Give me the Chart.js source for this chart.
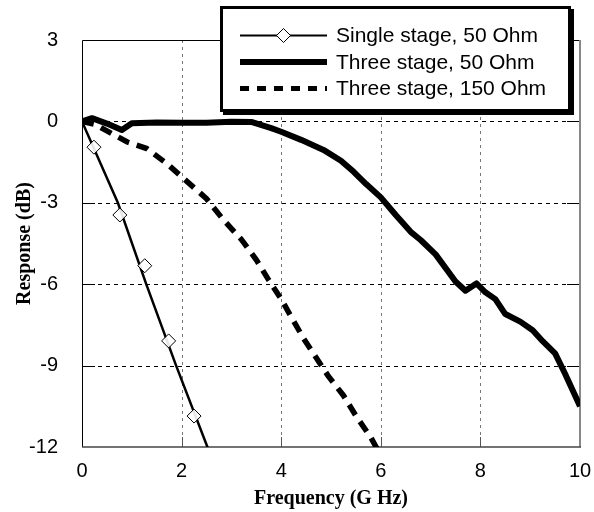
<!DOCTYPE html>
<html>
<head>
<meta charset="utf-8">
<script src="https://cdn.jsdelivr.net/npm/chart.js@4"></script>
<style>
  body { margin: 0; background: #fff; }
  #wrap { width: 594px; height: 512px; }
</style>
</head>
<body>
<div id="wrap"><canvas id="resp"></canvas></div>
<script>
// values
const freqSingle = [0, 0.72, 1.29, 1.89, 2.55];
const respSingle = [0, -3.0, -6.0, -9.0, -12.15];
const freqMarkers = [0.24, 0.76, 1.26, 1.74, 2.25];
const respMarkers = [-0.95, -3.45, -5.32, -8.09, -10.86];

const freq3s50 = [0, 0.2, 0.5, 0.8, 1.0, 1.5, 2.0, 2.5, 3.0, 3.4, 3.8, 4.0, 4.4, 4.85, 5.2, 5.45, 5.7, 6.0, 6.3, 6.6, 6.8, 7.1, 7.5, 7.7, 7.92, 8.1, 8.3, 8.5, 8.8, 9.05, 9.25, 9.5, 9.7, 10];
const resp3s50 = [0, 0.12, -0.08, -0.32, -0.07, -0.04, -0.05, -0.05, -0.01, -0.02, -0.25, -0.38, -0.68, -1.05, -1.45, -1.85, -2.3, -2.8, -3.45, -4.07, -4.37, -4.9, -5.9, -6.24, -5.97, -6.3, -6.55, -7.1, -7.38, -7.7, -8.1, -8.55, -9.3, -10.5];

const freq3s150 = [0, 0.25, 0.5, 0.9, 1.3, 1.7, 2.1, 2.5, 2.85, 3.2, 3.5, 3.75, 4.0, 4.2, 4.45, 4.7, 4.95, 5.25, 5.5, 5.8, 5.95];
const resp3s150 = [0, -0.1, -0.35, -0.75, -1.0, -1.55, -2.2, -2.85, -3.65, -4.35, -5.1, -5.85, -6.55, -7.2, -8.0, -8.7, -9.4, -10.1, -10.85, -11.65, -12.15];

const xTicks = [0, 2, 4, 6, 8, 10];
const yTicks = [3, 0, -3, -6, -9, -12];
const seriesNames = ["Single stage, 50 Ohm", "Three stage, 50 Ohm", "Three stage, 150 Ohm"];

const pts = (xs, ys) => xs.map((x, i) => ({ x: x, y: ys[i] }));

// grid lines, inside ticks and frame
const framePlugin = {
  id: 'frame',
  beforeDatasetsDraw(chart) {
    const ctx = chart.ctx, a = chart.chartArea;
    const xs = chart.scales.x, ys = chart.scales.y;
    ctx.save();
    ctx.lineWidth = 1;
    // vertical dotted grid
    ctx.strokeStyle = '#777';
    ctx.setLineDash([3, 4]);
    xTicks.slice(1, -1).forEach(v => {
      const px = Math.round(xs.getPixelForValue(v)) + 0.5;
      ctx.beginPath(); ctx.moveTo(px, a.top); ctx.lineTo(px, a.bottom); ctx.stroke();
    });
    // horizontal dashed grid
    ctx.strokeStyle = '#000';
    ctx.setLineDash([4, 4]);
    yTicks.slice(1, -1).forEach(v => {
      const py = Math.round(ys.getPixelForValue(v)) + 0.5;
      ctx.beginPath(); ctx.moveTo(a.left, py); ctx.lineTo(a.right, py); ctx.stroke();
    });
    ctx.setLineDash([]);
    // inside ticks
    yTicks.slice(1, -1).forEach(v => {
      const py = Math.round(ys.getPixelForValue(v)) + 0.5;
      ctx.strokeStyle = '#000';
      ctx.beginPath(); ctx.moveTo(a.left, py); ctx.lineTo(a.left + 13, py); ctx.stroke();
      ctx.beginPath(); ctx.moveTo(a.right - 13, py); ctx.lineTo(a.right, py); ctx.stroke();
    });
    ctx.strokeStyle = '#555';
    xTicks.slice(1, -1).forEach(v => {
      const px = Math.round(xs.getPixelForValue(v)) + 0.5;
      ctx.beginPath(); ctx.moveTo(px, a.bottom - 10); ctx.lineTo(px, a.bottom); ctx.stroke();
    });
    // frame
    ctx.strokeStyle = '#000';
    ctx.beginPath(); ctx.moveTo(a.left + 0.5, a.bottom); ctx.lineTo(a.left + 0.5, a.top + 0.5); ctx.lineTo(a.right, a.top + 0.5); ctx.stroke();
    ctx.strokeStyle = '#888';
    ctx.lineWidth = 2;
    ctx.beginPath(); ctx.moveTo(a.right, a.top); ctx.lineTo(a.right, a.bottom); ctx.stroke();
    ctx.strokeStyle = '#444';
    ctx.lineWidth = 1.5;
    ctx.beginPath(); ctx.moveTo(a.left, a.bottom); ctx.lineTo(a.right + 1, a.bottom); ctx.stroke();
    ctx.restore();
  }
};

// boxed legend in the top right corner
const legendPlugin = {
  id: 'boxLegend',
  afterDraw(chart) {
    const ctx = chart.ctx;
    const bx = 220, by = 6, bw = 351, bh = 106;
    ctx.save();
    ctx.fillStyle = '#000';
    ctx.fillRect(bx + 3, by + 3, bw, bh);
    ctx.fillStyle = '#fff';
    ctx.fillRect(bx, by, bw, bh);
    ctx.strokeStyle = '#000';
    ctx.lineWidth = 3;
    ctx.strokeRect(bx + 1.5, by + 1.5, bw - 3, bh - 3);

    const rows = [35.5, 62, 88.5];
    const x0 = 240, x1 = 327;
    ctx.lineCap = 'butt';
    // single stage
    ctx.lineWidth = 2;
    ctx.beginPath(); ctx.moveTo(x0, rows[0]); ctx.lineTo(x1, rows[0]); ctx.stroke();
    ctx.fillStyle = '#fff';
    ctx.lineWidth = 1;
    const cx = (x0 + x1) / 2, r = 7;
    ctx.beginPath();
    ctx.moveTo(cx, rows[0] - r); ctx.lineTo(cx + r, rows[0]); ctx.lineTo(cx, rows[0] + r); ctx.lineTo(cx - r, rows[0]);
    ctx.closePath(); ctx.fill(); ctx.stroke();
    // three stage 50
    ctx.lineWidth = 6;
    ctx.beginPath(); ctx.moveTo(x0, rows[1]); ctx.lineTo(x1, rows[1]); ctx.stroke();
    // three stage 150
    ctx.lineWidth = 5;
    ctx.setLineDash([9, 8]);
    ctx.beginPath(); ctx.moveTo(x0, rows[2]); ctx.lineTo(x1, rows[2]); ctx.stroke();
    ctx.setLineDash([]);

    ctx.fillStyle = '#000';
    ctx.font = '21px "Liberation Sans", Arial, sans-serif';
    ctx.textBaseline = 'middle';
    seriesNames.forEach((t, i) => ctx.fillText(t, 336, rows[i] + 1));
    ctx.restore();
  }
};

new Chart(document.getElementById('resp'), {
  type: 'scatter',
  data: {
    datasets: [
      {
        label: seriesNames[0],
        data: pts(freqSingle, respSingle),
        showLine: true,
        borderColor: '#000',
        borderWidth: 2.5,
        pointRadius: 0,
        clip: 0,
        order: 3
      },
      {
        label: seriesNames[0] + ' markers',
        data: pts(freqMarkers, respMarkers),
        showLine: false,
        pointStyle: 'rectRot',
        pointRadius: 7,
        pointBackgroundColor: 'rgba(255,255,255,0.9)',
        pointBorderColor: '#000',
        pointBorderWidth: 1,
        order: 2
      },
      {
        label: seriesNames[1],
        data: pts(freq3s50, resp3s50),
        showLine: true,
        borderColor: '#000',
        borderWidth: 6,
        borderJoinStyle: 'round',
        pointRadius: 0,
        clip: 0,
        order: 1
      },
      {
        label: seriesNames[2],
        data: pts(freq3s150, resp3s150),
        showLine: true,
        borderColor: '#000',
        borderWidth: 5.5,
        borderDash: [12, 8],
        pointRadius: 0,
        clip: 0,
        order: 1
      }
    ]
  },
  options: {
    responsive: true,
    maintainAspectRatio: false,
    animation: false,
    layout: { padding: { top: 40, right: 14, left: 0, bottom: 0 } },
    plugins: { legend: { display: false }, tooltip: { enabled: false } },
    scales: {
      x: {
        type: 'linear',
        min: 0, max: 10,
        afterFit: s => { s.height = 65; s.paddingRight = 0; s.paddingLeft = 0; },
        afterBuildTicks: s => { s.ticks = xTicks.map(v => ({ value: v })); },
        grid: { display: false },
        border: { display: false },
        ticks: {
          color: '#000',
          padding: 4,
          font: { family: '"Liberation Sans", Arial, sans-serif', size: 20 }
        },
        title: {
          display: true,
          text: 'Frequency (G Hz)',
          color: '#000',
          padding: { top: 0, bottom: 1 },
          font: { family: '"Liberation Serif", "Times New Roman", serif', size: 20, weight: 'bold' }
        }
      },
      y: {
        type: 'linear',
        min: -12, max: 3,
        afterFit: s => { s.width = 82; },
        afterBuildTicks: s => { s.ticks = yTicks.map(v => ({ value: v })); },
        grid: { display: false },
        border: { display: false },
        ticks: {
          color: '#000',
          padding: 16,
          font: { family: '"Liberation Sans", Arial, sans-serif', size: 20 }
        },
        title: {
          display: true,
          text: 'Response (dB)',
          color: '#000',
          padding: { top: 13, bottom: 0 },
          font: { family: '"Liberation Serif", "Times New Roman", serif', size: 20, weight: 'bold' }
        }
      }
    }
  },
  plugins: [framePlugin, legendPlugin]
});
</script>
</body>
</html>
